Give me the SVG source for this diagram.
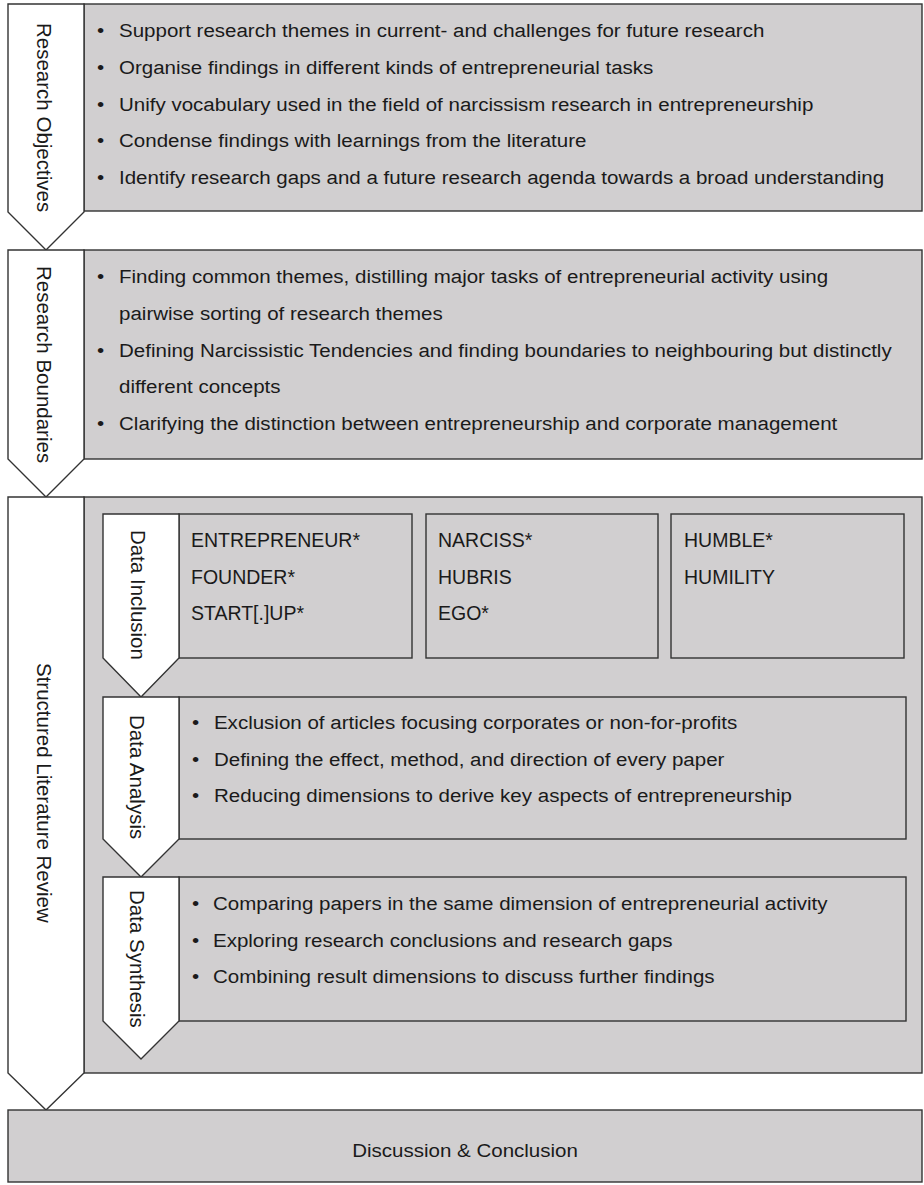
<svg xmlns="http://www.w3.org/2000/svg" width="924" height="1185" viewBox="0 0 924 1185">
<style>
.box{fill:#d1cfd0;stroke:#333;stroke-width:1.4}
.chev{fill:#fff;stroke:#333;stroke-width:1.4;stroke-linejoin:miter}
.t{font-family:"Liberation Sans",Arial,Helvetica,sans-serif;font-size:19px;fill:#1a1a1a}
.k{font-family:"Liberation Sans",Arial,Helvetica,sans-serif;font-size:19.5px;fill:#1a1a1a}
.v{font-family:"Liberation Sans",Arial,Helvetica,sans-serif;font-size:20.5px;fill:#1a1a1a}
</style>
<rect x="0" y="0" width="924" height="1185" fill="#fff"/>

<g id="research-objectives">
  <rect class="box" x="84" y="4" width="838" height="207"/>
  <polygon class="chev" points="8,4 84,4 84,212 46,250 8,212"/>
  <text class="v" transform="translate(37,23) rotate(90)">Research Objectives</text>
  <g transform="scale(1.08,1)">
    <text class="t" x="89.8" y="37">•</text><text class="t" x="110.2" y="37">Support research themes in current- and challenges for future research</text>
    <text class="t" x="89.8" y="74">•</text><text class="t" x="110.2" y="74">Organise findings in different kinds of entrepreneurial tasks</text>
    <text class="t" x="89.8" y="111">•</text><text class="t" x="110.2" y="111">Unify vocabulary used in the field of narcissism research in entrepreneurship</text>
    <text class="t" x="89.8" y="147">•</text><text class="t" x="110.2" y="147">Condense findings with learnings from the literature</text>
    <text class="t" x="89.8" y="184">•</text><text class="t" x="110.2" y="184">Identify research gaps and a future research agenda towards a broad understanding</text>
  </g>
</g>

<g id="research-boundaries">
  <rect class="box" x="84" y="250" width="838" height="209"/>
  <polygon class="chev" points="8,250 84,250 84,459 46,497 8,459"/>
  <text class="v" transform="translate(37,266) rotate(90)">Research Boundaries</text>
  <g transform="scale(1.08,1)">
    <text class="t" x="89.8" y="283">•</text><text class="t" x="110.2" y="283">Finding common themes, distilling major tasks of entrepreneurial activity using</text>
    <text class="t" x="110.2" y="320">pairwise sorting of research themes</text>
    <text class="t" x="89.8" y="357">•</text><text class="t" x="110.2" y="357">Defining Narcissistic Tendencies and finding boundaries to neighbouring but distinctly</text>
    <text class="t" x="110.2" y="393">different concepts</text>
    <text class="t" x="89.8" y="430">•</text><text class="t" x="110.2" y="430">Clarifying the distinction between entrepreneurship and corporate management</text>
  </g>
</g>

<g id="structured-literature-review">
  <rect class="box" x="84" y="497" width="838" height="576"/>
  <polygon class="chev" points="8,497 84,497 84,1073 46,1110 8,1073"/>
  <text class="v" transform="translate(37,663) rotate(90)">Structured Literature Review</text>
</g>

<g id="data-inclusion">
  <rect class="box" x="179" y="514" width="233" height="144"/>
  <rect class="box" x="426" y="514" width="232" height="144"/>
  <rect class="box" x="671" y="514" width="233" height="144"/>
  <polygon class="chev" points="103,514 179,514 179,658 141,697 103,658"/>
  <text class="v" transform="translate(131,530) rotate(90)">Data Inclusion</text>
  <text class="k" x="191" y="547">ENTREPRENEUR*</text>
  <text class="k" x="191" y="584">FOUNDER*</text>
  <text class="k" x="191" y="620">START[.]UP*</text>
  <text class="k" x="438" y="547">NARCISS*</text>
  <text class="k" x="438" y="584">HUBRIS</text>
  <text class="k" x="438" y="620">EGO*</text>
  <text class="k" x="684" y="547">HUMBLE*</text>
  <text class="k" x="684" y="584">HUMILITY</text>
</g>

<g id="data-analysis">
  <rect class="box" x="179" y="697" width="727" height="142"/>
  <polygon class="chev" points="103,697 179,697 179,839 141,877 103,839"/>
  <text class="v" transform="translate(130,715) rotate(90)">Data Analysis</text>
  <g transform="scale(1.08,1)">
    <text class="t" x="177.8" y="729">•</text><text class="t" x="198.1" y="729">Exclusion of articles focusing corporates or non-for-profits</text>
    <text class="t" x="177.8" y="766">•</text><text class="t" x="198.1" y="766">Defining the effect, method, and direction of every paper</text>
    <text class="t" x="177.8" y="802">•</text><text class="t" x="198.1" y="802">Reducing dimensions to derive key aspects of entrepreneurship</text>
  </g>
</g>

<g id="data-synthesis">
  <rect class="box" x="179" y="877" width="727" height="144"/>
  <polygon class="chev" points="103,877 179,877 179,1021 141,1059 103,1021"/>
  <text class="v" transform="translate(130,890) rotate(90)">Data Synthesis</text>
  <g transform="scale(1.08,1)">
    <text class="t" x="177.8" y="910">•</text><text class="t" x="197.2" y="910">Comparing papers in the same dimension of entrepreneurial activity</text>
    <text class="t" x="177.8" y="947">•</text><text class="t" x="197.2" y="947">Exploring research conclusions and research gaps</text>
    <text class="t" x="177.8" y="983">•</text><text class="t" x="197.2" y="983">Combining result dimensions to discuss further findings</text>
  </g>
</g>

<g id="discussion-conclusion">
  <rect class="box" x="8" y="1110" width="914" height="72"/>
  <g transform="scale(1.08,1)">
    <text class="t" x="430.6" y="1157" text-anchor="middle">Discussion &amp; Conclusion</text>
  </g>
</g>

<g id="connectors"></g>
</svg>
